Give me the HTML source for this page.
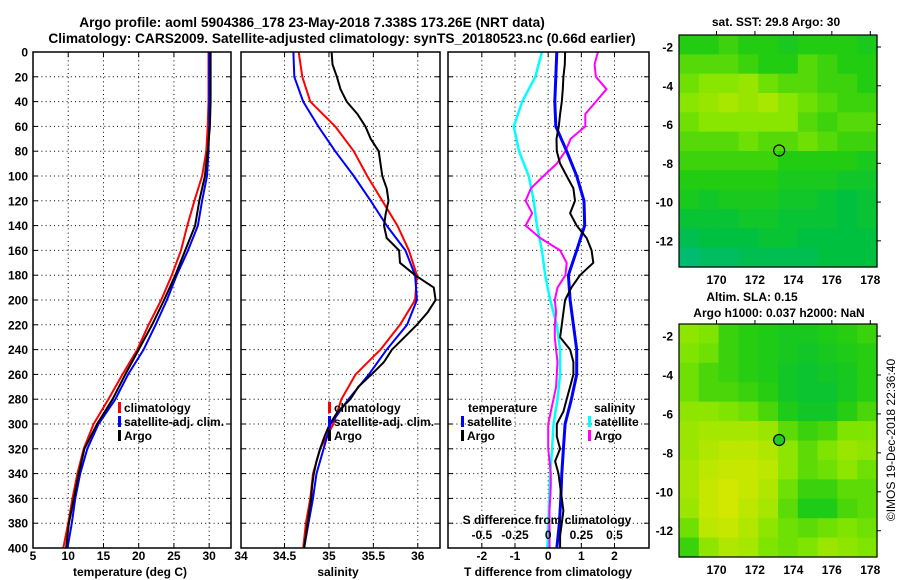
<!DOCTYPE html>
<html><head><meta charset="utf-8">
<style>
html,body{margin:0;padding:0;background:#fff;}
svg{display:block;font-family:"Liberation Sans",Arial,sans-serif;font-weight:bold;}
</style></head>
<body>
<svg id="fig" width="900" height="580" viewBox="0 0 900 580" xmlns="http://www.w3.org/2000/svg">
<rect width="900" height="580" fill="#fff"/>
<text x="312" y="27" font-size="13.7" text-anchor="middle">Argo profile: aoml 5904386_178 23-May-2018 7.338S 173.26E (NRT data)</text>
<text x="342" y="43" font-size="13.7" text-anchor="middle">Climatology: CARS2009. Satellite-adjusted climatology: synTS_20180523.nc (0.66d earlier)</text>
<g id="plots"></g>
<text x="776" y="26" font-size="12" text-anchor="middle">sat. SST: 29.8 Argo: 30</text>
<text x="752" y="301" font-size="12" text-anchor="middle">Altim. SLA: 0.15</text>
<text x="779" y="317" font-size="12" text-anchor="middle">Argo h1000: 0.037 h2000: NaN</text>
<text transform="translate(895,440) rotate(-90)" font-size="12" font-weight="normal" text-anchor="middle">©IMOS 19-Dec-2018 22:36:40</text>
</svg>
<script>
// ---- profile data ----
const depths20 = [0,20,40,60,80,100,120,140,160,180,200,220,240,260,280,300,320,340,360,380,400];
const depths10 = [0,10,20,30,40,50,60,70,80,90,100,110,120,130,140,150,160,170,180,190,200,210,220,230,240,250,260,270,280,290,300,310,320,330,340,350,360,370,380,390,400];
const depthTicks = [0,20,40,60,80,100,120,140,160,180,200,220,240,260,280,300,320,340,360,380,400];
const tempClim = [29.9,29.9,29.9,29.8,29.6,29.0,27.9,26.9,26.0,24.7,23.2,21.4,19.8,17.7,15.7,13.6,12.2,11.3,10.6,10.0,9.3];
const tempSat  = [30.0,30.0,30.0,30.0,29.9,29.7,29.0,28.4,27.0,25.4,24.0,22.4,20.7,18.5,16.7,14.3,12.7,11.7,11.0,10.5,9.9];
const tempArgo = [30.2,30.2,30.2,30.1,29.8,29.4,28.6,28.0,26.6,25.2,23.6,21.9,20.0,18.1,16.3,14.1,12.3,11.5,10.8,10.1,9.7];
const salClim = [34.66,34.70,34.79,35.07,35.28,35.43,35.60,35.77,35.90,35.99,35.97,35.80,35.58,35.30,35.14,35.05,34.90,34.82,34.79,34.74,34.71];
const salSat  = [34.60,34.61,34.71,34.88,35.07,35.28,35.47,35.65,35.86,35.97,35.99,35.88,35.65,35.45,35.22,35.02,34.94,34.86,34.82,34.77,34.72];
const salArgo = [35.03,35.04,35.09,35.13,35.20,35.32,35.41,35.47,35.56,35.58,35.60,35.65,35.67,35.64,35.62,35.65,35.79,35.80,35.97,36.18,36.20,36.11,35.99,35.85,35.71,35.62,35.48,35.33,35.24,35.10,35.01,34.95,34.90,34.86,34.83,34.81,34.80,34.78,34.76,34.74,34.72];
const tDiffSat = [0.26,0.23,0.20,0.23,0.56,0.86,1.08,1.10,0.86,0.61,0.66,0.76,0.86,0.86,0.70,0.51,0.46,0.41,0.38,0.34,0.26];
const tDiffArgo = [0.51,0.50,0.46,0.44,0.41,0.36,0.32,0.25,0.26,0.36,0.56,0.76,0.81,0.66,0.86,1.16,1.31,1.36,0.96,0.70,0.51,0.46,0.41,0.36,0.66,0.76,0.76,0.66,0.56,0.46,0.26,0.26,0.36,0.21,0.31,0.36,0.41,0.46,0.41,0.36,0.36];
const sDiffSat = [-0.047,-0.097,-0.196,-0.259,-0.22,-0.147,-0.109,-0.085,-0.047,-0.022,0.015,0.065,0.09,0.09,0.07,0.04,0.03,0.015,0.008,0.002,-0.006];
const sDiffArgo = [0.375,0.35,0.36,0.44,0.36,0.28,0.28,0.17,0.13,0.065,-0.035,-0.13,-0.17,-0.12,-0.17,-0.06,0.09,0.14,0.13,0.07,0.05,0.06,0.05,0.05,0.06,0.07,0.065,0.06,0.04,0.02,0.0,0.0,0.0,0.01,0.02,0.02,0.015,0.01,0.01,0.01,0.01];
const tempTicks = [5,10,15,20,25,30];
const salTicks = [34,34.5,35,35.5,36];
const tDiffTicks = [-2,-1,0,1,2];
const sDiffTicks = [-0.5,-0.25,0,0.25,0.5];
const sDiffTickLabels = ["-0.5","-0.25","0","0.25","0.5"];
// ---- map data (coarse grids, rows north->south) ----
const mapLons = [168.05,178.35];
const mapLats = [-1.38,-13.35];
const lonTicks = [170,172,174,176,178];
const latTicks = [-2,-4,-6,-8,-10,-12];
const sstGrid = [
[0.5,0.5,0.55,0.5,0.5,0.45,0.5,0.5,0.5,0.45],
[0.6,0.6,0.6,0.55,0.5,0.5,0.6,0.55,0.5,0.5],
[0.65,0.7,0.7,0.75,0.65,0.6,0.6,0.55,0.55,0.5],
[0.7,0.75,0.8,0.75,0.8,0.7,0.65,0.6,0.55,0.55],
[0.65,0.7,0.7,0.7,0.7,0.7,0.6,0.55,0.6,0.6],
[0.6,0.6,0.6,0.65,0.6,0.6,0.65,0.6,0.55,0.55],
[0.55,0.55,0.55,0.55,0.55,0.5,0.5,0.5,0.5,0.45],
[0.5,0.5,0.5,0.5,0.5,0.45,0.45,0.45,0.4,0.4],
[0.45,0.4,0.45,0.45,0.45,0.4,0.4,0.35,0.3,0.35],
[0.35,0.35,0.35,0.4,0.4,0.35,0.35,0.35,0.3,0.35],
[0.25,0.3,0.3,0.3,0.35,0.35,0.3,0.3,0.3,0.3],
[0.15,0.2,0.2,0.25,0.25,0.25,0.25,0.3,0.3,0.3]];
const slaGrid = [
[0.6,0.55,0.35,0.3,0.25,0.2,0.2,0.25,0.3,0.35],
[0.55,0.5,0.35,0.3,0.25,0.2,0.15,0.2,0.25,0.3],
[0.5,0.4,0.35,0.3,0.25,0.15,0.1,0.15,0.2,0.3],
[0.5,0.4,0.4,0.35,0.3,0.15,0.1,0.1,0.2,0.3],
[0.6,0.6,0.55,0.5,0.4,0.25,0.15,0.15,0.3,0.4],
[0.65,0.7,0.7,0.7,0.65,0.45,0.35,0.4,0.55,0.55],
[0.65,0.75,0.8,0.8,0.75,0.6,0.45,0.55,0.65,0.6],
[0.7,0.8,0.85,0.85,0.8,0.6,0.45,0.5,0.6,0.5],
[0.7,0.85,0.9,0.85,0.75,0.5,0.35,0.35,0.45,0.45],
[0.65,0.85,0.9,0.8,0.7,0.45,0.25,0.25,0.4,0.45],
[0.5,0.8,0.85,0.75,0.6,0.5,0.45,0.5,0.55,0.5],
[0.35,0.6,0.75,0.7,0.55,0.5,0.55,0.65,0.6,0.55]];
const argoLon = 173.26, argoLat = -7.338;

const NS="http://www.w3.org/2000/svg";
const root=document.getElementById('plots');
function mk(tag,attrs,parent){const e=document.createElementNS(NS,tag);for(const k in attrs)e.setAttribute(k,attrs[k]);(parent||root).appendChild(e);return e;}
function txt(x,y,s,size,anchor,parent){const t=mk('text',{x:x,y:y,'font-size':size,'text-anchor':anchor||'middle'},parent);t.textContent=s;return t;}

const PT=52, PB=548;
const yD=d=>PT+(d/400)*(PB-PT);

function panel(id,x0,x1,xmin,xmax){
  const g=mk('g',{});
  
  
  const cp=mk('clipPath',{id:'clip-'+id},g);
  mk('rect',{x:x0,y:PT,width:x1-x0,height:PB-PT},cp);
  const sx=v=>x0+(v-xmin)/(xmax-xmin)*(x1-x0);
  return {g,sx,x0,x1};
}
function grid(P,xt){
  const gg=mk('g',{stroke:'#000','stroke-width':1,'stroke-dasharray':'1,3.2'},P.g);
  
  
  depthTicks.forEach(d=>{if(d>0&&d<400)mk('line',{x1:P.x0,x2:P.x1,y1:yD(d),y2:yD(d)},gg);});
  xt.forEach(v=>{const x=P.sx(v);if(x>P.x0+2&&x<P.x1-2)mk('line',{x1:x,x2:x,y1:PT,y2:PB},gg);});
  const tk=mk('g',{stroke:'#000','stroke-width':1},P.g);
  xt.forEach(v=>{const x=P.sx(v);if(x>P.x0+2&&x<P.x1-2){mk('line',{x1:x,x2:x,y1:PT,y2:PT+5},tk);mk('line',{x1:x,x2:x,y1:PB,y2:PB-5},tk);}});
  depthTicks.forEach(d=>{mk('line',{x1:P.x0,x2:P.x0+5,y1:yD(d),y2:yD(d)},tk);mk('line',{x1:P.x1,x2:P.x1-5,y1:yD(d),y2:yD(d)},tk);});
}
function series(P,name,depths,vals,color,w,scale){
  const pts=vals.map((v,i)=>P.sx(v*(scale||1)).toFixed(1)+','+yD(depths[i]).toFixed(1)).join(' ');
  const l=mk('polyline',{points:pts,fill:'none',stroke:color,'stroke-width':w,'stroke-linejoin':'round','clip-path':'url(#clip-'+P.id+')'},P.g);
  
  
}
function frame(P){const r=mk('rect',{x:P.x0,y:PT,width:P.x1-P.x0,height:PB-PT,fill:'none',stroke:'#000','stroke-width':1.5},P.g);}
function legItem(P,x,y,color,label){
  mk('rect',{x:x,y:y-10,width:3,height:11,fill:color},P.g);
  const t=txt(x+6,y,label,12,'start',P.g);
  
  
}

// Panel 1 temperature
const P1=panel('temperature-panel',33,231,5,33.1);P1.id='temperature-panel';
grid(P1,tempTicks);
series(P1,'temp-climatology-line',depths20,tempClim,'#f00',2);
series(P1,'temp-satellite-line',depths20,tempSat,'#00f',2);
series(P1,'temp-argo-line',depths20,tempArgo,'#000',2);
frame(P1);
depthTicks.forEach(d=>{const t=txt(28,yD(d)+4.5,String(d),12,'end',P1.g);});
tempTicks.forEach(v=>{const t=txt(P1.sx(v),560,String(v),12,'middle',P1.g);});
{const t=txt(130,576,'temperature (deg C)',12,'middle',P1.g);}
legItem(P1,118,412,'#f00','climatology');
legItem(P1,118,426,'#00f','satellite-adj. clim.');
legItem(P1,118,440,'#000','Argo');

// Panel 2 salinity
const P2=panel('salinity-panel',241,440,34.01,36.25);P2.id='salinity-panel';
grid(P2,salTicks);
series(P2,'sal-climatology-line',depths20,salClim,'#f00',2);
series(P2,'sal-satellite-line',depths20,salSat,'#00f',2);
series(P2,'sal-argo-line',depths10,salArgo,'#000',2);
frame(P2);
salTicks.forEach(v=>{const t=txt(v===34?241:P2.sx(v),560,String(v),12,'middle',P2.g);});
{const t=txt(338,576,'salinity',12,'middle',P2.g);}
legItem(P2,328,412,'#f00','climatology');
legItem(P2,328,426,'#00f','satellite-adj. clim.');
legItem(P2,328,440,'#000','Argo');

// Panel 3 differences
const P3=panel('difference-panel',448,649,-3.02,3.04);P3.id='difference-panel';
grid(P3,tDiffTicks);
series(P3,'s-diff-satellite-line',depths20,sDiffSat,'#0ff',2.5,4);
series(P3,'s-diff-argo-line',depths10,sDiffArgo,'#f0f',2,4);
series(P3,'t-diff-satellite-line',depths20,tDiffSat,'#00f',3);
series(P3,'t-diff-argo-line',depths10,tDiffArgo,'#000',2);
frame(P3);
tDiffTicks.forEach(v=>{const t=txt(P3.sx(v),560,String(v),12,'middle',P3.g);});
{const t=txt(548,576,'T difference from climatology',12,'middle',P3.g);}
sDiffTicks.forEach((v,i)=>{const t=txt(P3.sx(v*4),539,sDiffTickLabels[i],12,'middle',P3.g);});
{const t=txt(547,524,'S difference from climatology',12,'middle',P3.g);}
{const t=txt(468,412,'temperature',12,'start',P3.g);}
legItem(P3,461,426,'#00f','satellite');
legItem(P3,461,440,'#000','Argo');
{const t=txt(594,412,'salinity',12,'start',P3.g);}
legItem(P3,588,426,'#0ff','satellite');
legItem(P3,588,440,'#f0f','Argo');

// Maps
const stops=[[0,[0,184,160]],[0.3,[0,192,64]],[0.5,[34,204,17]],[0.7,[136,230,0]],[1,[232,232,0]]];
function cmap(v){for(let i=1;i<stops.length;i++){if(v<=stops[i][0]){const a=stops[i-1],b=stops[i];const f=(v-a[0])/(b[0]-a[0]);const c=a[1].map((x,k)=>Math.round(x+(b[1][k]-x)*f));return 'rgb('+c.join(',')+')';}}return 'rgb(232,232,0)';}
function drawMap(name,top,bottom,gridVals,transform,filledDot){
  const L=679,R=877;
  const g=mk('g',{});
  
  
  const mx=lon=>L+(lon-mapLons[0])/(mapLons[1]-mapLons[0])*(R-L);
  const my=lat=>top+(lat-mapLats[0])/(mapLats[1]-mapLats[0])*(bottom-top);
  const rows=gridVals.length, cols=gridVals[0].length;
  const cw=(R-L)/cols, ch=(bottom-top)/rows;
  gridVals.forEach((row,r)=>row.forEach((v,c)=>{
    const cell=mk('rect',{x:(L+c*cw).toFixed(2),y:(top+r*ch).toFixed(2),width:(cw+0.6).toFixed(2),height:(ch+0.6).toFixed(2),fill:cmap(transform(v))},g);
    
    
  }));
  mk('rect',{x:L,y:top,width:R-L,height:bottom-top,fill:'none',stroke:'#000','stroke-width':1.2},g);
  lonTicks.forEach(lo=>{const x=mx(lo);mk('line',{x1:x,x2:x,y1:top,y2:top-4,stroke:'#000'},g);const t=txt(x,bottom+17,String(lo),12,'middle',g);});
  latTicks.forEach(la=>{const y=my(la);mk('line',{x1:R,x2:R+4,y1:y,y2:y,stroke:'#000'},g);const t=txt(673,y+4.5,String(la),12,'end',g);});
  const dot=mk('circle',{cx:mx(argoLon),cy:my(argoLat),r:5.5,fill:filledDot?'#22cc22':'none',stroke:'#000','stroke-width':1.2},g);
  
  
}
drawMap('sst-map',35,267,sstGrid,v=>v,false);
drawMap('sla-map',324,557,slaGrid,v=>0.3+0.7*v,true);
</script>
</body></html>
